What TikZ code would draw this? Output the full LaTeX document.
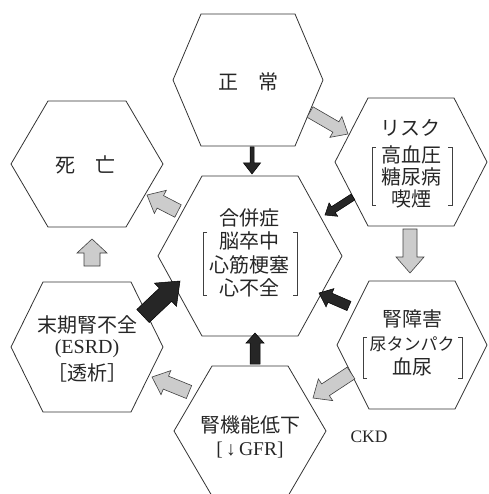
\documentclass[tikz,border=0pt]{standalone}
\usepackage{fontspec}
\setmainfont{Liberation Serif}
\newfontfamily\jp{Noto Sans CJK JP}
\usetikzlibrary{calc}
\tikzset{
  hexline/.style={draw=black!80, line width=0.8pt},
  brk/.style={draw=black!75, line width=0.8pt},
  jptext/.style={font=\jp\fontsize{20}{23}\selectfont, align=center, inner sep=0pt, text=black!85},
  lattext/.style={font=\rmfamily\fontsize{19}{23}\selectfont, align=center, inner sep=0pt, text=black!85},
  grayarrow/.style={fill=black!20, draw=black!75, line width=0.6pt, line join=miter},
  darkarrow/.style={fill=black!85, draw=black, line width=0.5pt, line join=miter}
}
\newcommand{\hexa}[5]{%
  \draw[hexline] (#1-#3,#2) -- (#1-#4,#2-#5) -- (#1+#4,#2-#5) -- (#1+#3,#2)
    -- (#1+#4,#2+#5) -- (#1-#4,#2+#5) -- cycle;}
\newcommand{\lbrk}[3]{\draw[brk] (#1+4,#2) -- (#1,#2) -- (#1,#3) -- (#1+4,#3);}
\newcommand{\rbrk}[3]{\draw[brk] (#1-4,#2) -- (#1,#2) -- (#1,#3) -- (#1-4,#3);}
\newcommand{\blockarr}[6]{%
  \coordinate (tmpH) at ($(#3)!#6!(#2)$);
  \draw[#1] ($(#2)!#4!90:(#3)$) -- ($(tmpH)!#4!90:(#3)$) -- ($(tmpH)!#5!90:(#3)$)
    -- (#3) -- ($(tmpH)!#5!-90:(#3)$) -- ($(tmpH)!#4!-90:(#3)$) -- ($(#2)!#4!-90:(#3)$) -- cycle;}
\begin{document}
\begin{tikzpicture}[x=1pt,y=-1pt]
\useasboundingbox (0,0) rectangle (488,494);
\clip (0,0) rectangle (488,494);
% hexagons
\hexa{248}{80}{75}{47}{66}
\hexa{250}{256}{92}{48}{80}
\hexa{411}{162}{76}{43}{64}
\hexa{87}{164}{76}{39}{63}
\hexa{87}{347}{76}{44}{65}
\hexa{412}{345}{75}{43}{64}
\hexa{250}{431}{76}{38}{65}
% texts
\node[jptext] (normal) at (248,82) {正　常};
\node[jptext] (death) at (85,165) {死　亡};
\node[jptext] (risk) at (410,128) {リスク};
\node[jptext, font=\jp\fontsize{20}{22}\selectfont] (riskitems) at (411,177) {高血圧\\糖尿病\\喫煙};
\node[jptext, font=\jp\fontsize{20}{23.3}\selectfont] (comp) at (249,253) {合併症\\脳卒中\\心筋梗塞\\心不全};
\node[jptext, font=\jp\fontsize{20}{24}\selectfont] (kd) at (412,343) {腎障害\\{\fontsize{17}{24}\selectfont 尿タンパク}\\血尿};
\node[jptext] (esrd) at (87,325) {末期腎不全};
\node[lattext, font=\rmfamily\fontsize{20}{24}\selectfont] (esrdabbr) at (87,349) {(ESRD)};
\node[jptext] (dialysis) at (87,373) {［透析］};
\node[jptext] (kf) at (250,425) {腎機能低下};
\node[lattext, font=\rmfamily\fontsize{19.5}{23}\selectfont] (gfr) at (250,450) {[\,↓\,GFR]};
\node[lattext, font=\rmfamily\fontsize{17.5}{20}\selectfont] (ckd) at (369,437) {CKD};
% brackets
\lbrk{203}{232}{295}\rbrk{297}{232}{295}
\lbrk{372}{147}{205}\rbrk{452}{147}{205}
\lbrk{363}{337}{378}\rbrk{462}{337}{378}
% arrow end coordinates
\coordinate (a1s) at (252,147); \coordinate (a1e) at (252,174);
\coordinate (a2s) at (310,112); \coordinate (a2e) at (348,134);
\coordinate (a3s) at (353,197); \coordinate (a3e) at (325,215);
\coordinate (a4s) at (410,229); \coordinate (a4e) at (410,273);
\coordinate (a5s) at (349,306); \coordinate (a5e) at (319,293);
\coordinate (a6s) at (351,373); \coordinate (a6e) at (313,398);
\coordinate (a7s) at (255,364); \coordinate (a7e) at (255,333);
\coordinate (a8s) at (189,392); \coordinate (a8e) at (152,377);
\coordinate (a9s) at (143,316); \coordinate (a9e) at (180,281);
\coordinate (a10s) at (92,266); \coordinate (a10e) at (92,239);
\coordinate (a11s) at (178,211); \coordinate (a11e) at (147,195);
% arrows
\blockarr{darkarrow}{a1s}{a1e}{2pt}{8.5pt}{11pt}
\blockarr{grayarrow}{a2s}{a2e}{6pt}{12pt}{14pt}
\blockarr{darkarrow}{a3s}{a3e}{3.5pt}{8pt}{10pt}
\blockarr{grayarrow}{a4s}{a4e}{7pt}{14pt}{16pt}
\blockarr{darkarrow}{a5s}{a5e}{5pt}{10pt}{12pt}
\blockarr{grayarrow}{a6s}{a6e}{7pt}{13pt}{15pt}
\blockarr{darkarrow}{a7s}{a7e}{5pt}{9pt}{10pt}
\blockarr{grayarrow}{a8s}{a8e}{7pt}{13pt}{15pt}
\blockarr{darkarrow}{a9s}{a9e}{9pt}{16pt}{20pt}
\blockarr{grayarrow}{a10s}{a10e}{8pt}{15pt}{14pt}
\blockarr{grayarrow}{a11s}{a11e}{7pt}{13pt}{15pt}
\end{tikzpicture}
\end{document}
